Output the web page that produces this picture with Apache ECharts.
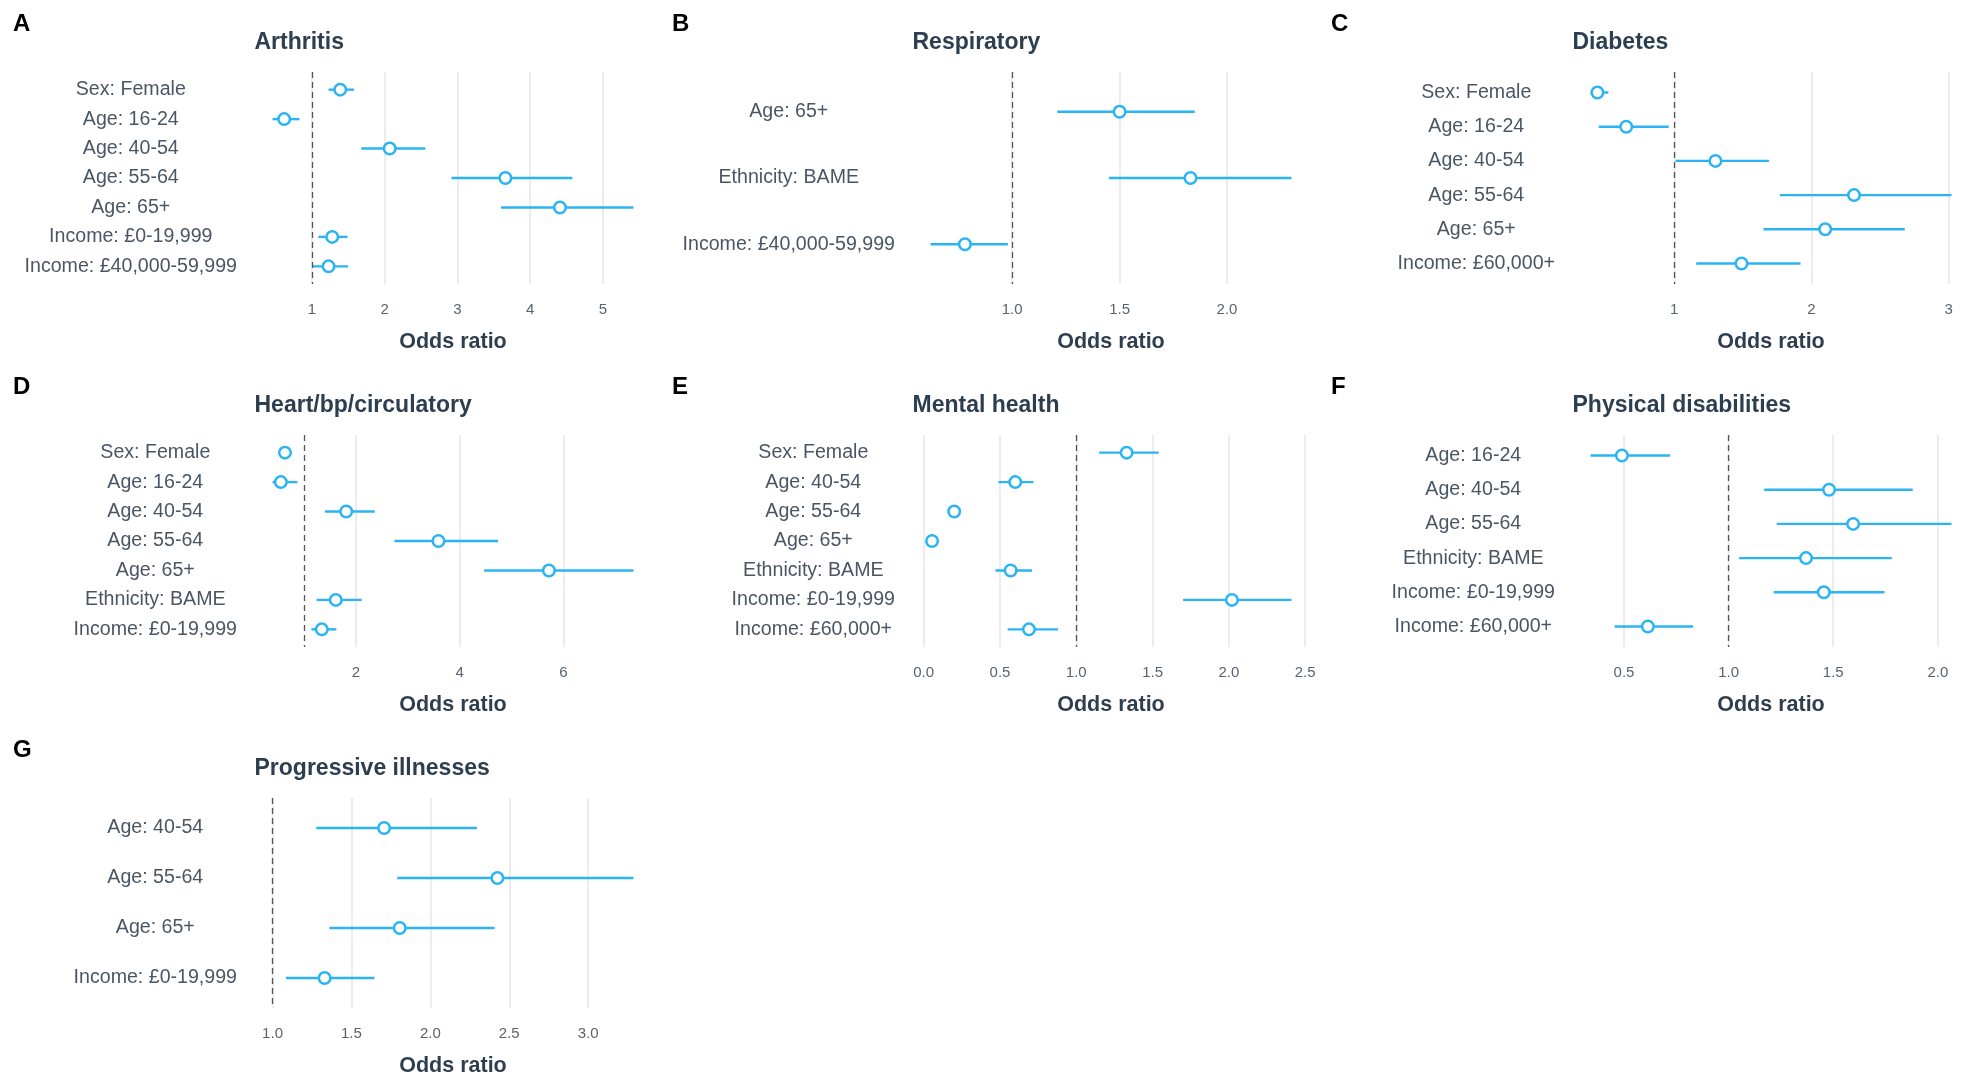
<!DOCTYPE html>
<html>
<head>
<meta charset="utf-8">
<script src="https://cdn.jsdelivr.net/npm/echarts@6/dist/echarts.min.js"></script>
<style>
html,body{margin:0;padding:0;background:#fff;}
#chart{width:1970px;height:1078px;}
</style>
</head>
<body>
<div id="chart"></div>
<script>
// ---------------- DATA ----------------
const arthritisLabels = ['Sex: Female','Age: 16-24','Age: 40-54','Age: 55-64','Age: 65+','Income: £0-19,999','Income: £40,000-59,999'];
const arthritisOR = [1.39, 0.62, 2.07, 3.66, 4.41, 1.28, 1.23];
const arthritisLo = [1.23, 0.46, 1.68, 2.92, 3.60, 1.09, 1.01];
const arthritisHi = [1.58, 0.83, 2.56, 4.58, 5.42, 1.49, 1.50];
const arthritisTicks = [1, 2, 3, 4, 5];
const arthritisTickLabels = ['1', '2', '3', '4', '5'];

const respiratoryLabels = ['Age: 65+','Ethnicity: BAME','Income: £40,000-59,999'];
const respiratoryOR = [1.50, 1.83, 0.78];
const respiratoryLo = [1.21, 1.45, 0.62];
const respiratoryHi = [1.85, 2.30, 0.98];
const respiratoryTicks = [1.0, 1.5, 2.0];
const respiratoryTickLabels = ['1.0', '1.5', '2.0'];

const diabetesLabels = ['Sex: Female','Age: 16-24','Age: 40-54','Age: 55-64','Age: 65+','Income: £60,000+'];
const diabetesOR = [0.44, 0.65, 1.30, 2.31, 2.10, 1.49];
const diabetesLo = [0.39, 0.45, 1.01, 1.77, 1.65, 1.16];
const diabetesHi = [0.52, 0.96, 1.69, 3.02, 2.68, 1.92];
const diabetesTicks = [1, 2, 3];
const diabetesTickLabels = ['1', '2', '3'];

const heartLabels = ['Sex: Female','Age: 16-24','Age: 40-54','Age: 55-64','Age: 65+','Ethnicity: BAME','Income: £0-19,999'];
const heartOR = [0.63, 0.55, 1.81, 3.59, 5.72, 1.61, 1.34];
const heartLo = [0.60, 0.39, 1.40, 2.74, 4.47, 1.24, 1.14];
const heartHi = [0.67, 0.87, 2.36, 4.74, 7.35, 2.11, 1.62];
const heartTicks = [2, 4, 6];
const heartTickLabels = ['2', '4', '6'];

const mentalLabels = ['Sex: Female','Age: 40-54','Age: 55-64','Age: 65+','Ethnicity: BAME','Income: £0-19,999','Income: £60,000+'];
const mentalOR = [1.33, 0.60, 0.20, 0.055, 0.57, 2.02, 0.69];
const mentalLo = [1.15, 0.49, 0.185, 0.045, 0.47, 1.70, 0.55];
const mentalHi = [1.54, 0.72, 0.215, 0.065, 0.71, 2.41, 0.88];
const mentalTicks = [0.0, 0.5, 1.0, 1.5, 2.0, 2.5];
const mentalTickLabels = ['0.0', '0.5', '1.0', '1.5', '2.0', '2.5'];

const physicalLabels = ['Age: 16-24','Age: 40-54','Age: 55-64','Ethnicity: BAME','Income: £0-19,999','Income: £60,000+'];
const physicalOR = [0.49, 1.48, 1.595, 1.37, 1.455, 0.614];
const physicalLo = [0.34, 1.17, 1.23, 1.05, 1.215, 0.455];
const physicalHi = [0.72, 1.88, 2.065, 1.78, 1.745, 0.83];
const physicalTicks = [0.5, 1.0, 1.5, 2.0];
const physicalTickLabels = ['0.5', '1.0', '1.5', '2.0'];

const progressiveLabels = ['Age: 40-54','Age: 55-64','Age: 65+','Income: £0-19,999'];
const progressiveOR = [1.707, 2.425, 1.806, 1.33];
const progressiveLo = [1.277, 1.79, 1.36, 1.085];
const progressiveHi = [2.295, 3.287, 2.407, 1.646];
const progressiveTicks = [1.0, 1.5, 2.0, 2.5, 3.0];
const progressiveTickLabels = ['1.0', '1.5', '2.0', '2.5', '3.0'];

const panelTitles = ['Arthritis', 'Respiratory', 'Diabetes', 'Heart/bp/circulatory', 'Mental health', 'Physical disabilities', 'Progressive illnesses'];
const panelLetters = ['A', 'B', 'C', 'D', 'E', 'F', 'G'];
const axisTitle = 'Odds ratio';
const refValue = 1;

// ---------------- BUILD ----------------
const panels = [
  {labels: arthritisLabels, or: arthritisOR, lo: arthritisLo, hi: arthritisHi, ticks: arthritisTicks, tickLabels: arthritisTickLabels},
  {labels: respiratoryLabels, or: respiratoryOR, lo: respiratoryLo, hi: respiratoryHi, ticks: respiratoryTicks, tickLabels: respiratoryTickLabels},
  {labels: diabetesLabels, or: diabetesOR, lo: diabetesLo, hi: diabetesHi, ticks: diabetesTicks, tickLabels: diabetesTickLabels},
  {labels: heartLabels, or: heartOR, lo: heartLo, hi: heartHi, ticks: heartTicks, tickLabels: heartTickLabels},
  {labels: mentalLabels, or: mentalOR, lo: mentalLo, hi: mentalHi, ticks: mentalTicks, tickLabels: mentalTickLabels},
  {labels: physicalLabels, or: physicalOR, lo: physicalLo, hi: physicalHi, ticks: physicalTicks, tickLabels: physicalTickLabels},
  {labels: progressiveLabels, or: progressiveOR, lo: progressiveLo, hi: progressiveHi, ticks: progressiveTicks, tickLabels: progressiveTickLabels}
];

const BLUE = '#2bb4f3';
const FONT = '"Liberation Sans", Arial, Helvetica, sans-serif';
const colLeft = [254.5, 912.5, 1572.5];
const letterLeft = [13, 672, 1331];
const rowTop = [72, 435, 798];
const plotW = 397, plotH = 212;
const LABEL_SIZE = 19.6;

const ctx = document.createElement('canvas').getContext('2d');
function textW(t, font) { ctx.font = font; return ctx.measureText(t).width; }

const grid = [], xAxis = [], yAxis = [], series = [], title = [];

panels.forEach((p, i) => {
  const col = i % 3, row = Math.floor(i / 3);
  const left = colLeft[col], top = rowTop[row];
  const dMin = Math.min(refValue, ...p.lo), dMax = Math.max(refValue, ...p.hi);
  const pad = (dMax - dMin) * 0.05;
  const n = p.labels.length;
  const idx = p.labels.map((_, k) => k);
  const maxW = Math.max(...p.labels.map(t => textW(t, LABEL_SIZE + 'px ' + FONT)));

  grid.push({left: left, top: top, width: plotW, height: plotH});

  xAxis.push({
    type: 'value', gridIndex: i, min: dMin - pad, max: dMax + pad,
    axisLine: {show: false},
    axisTick: {show: false, customValues: p.ticks},
    axisLabel: {
      customValues: p.ticks,
      formatter: v => { const k = p.ticks.findIndex(t => Math.abs(t - v) < 1e-9); return k >= 0 ? p.tickLabels[k] : ''; },
      color: '#59636e', fontSize: 15, fontFamily: FONT, margin: 18.5
    },
    splitLine: {show: true, lineStyle: {color: '#e6e6e6', width: 1.5}},
    name: axisTitle, nameLocation: 'middle', nameGap: 47,
    nameTextStyle: {color: '#2f3e4e', fontSize: 21.5, fontWeight: 'bold', fontFamily: FONT}
  });

  yAxis.push({
    type: 'value', gridIndex: i, inverse: true, min: -0.6, max: n - 1 + 0.6,
    axisLine: {show: false},
    axisTick: {show: false, customValues: idx},
    splitLine: {show: false},
    axisLabel: {
      customValues: idx,
      formatter: v => p.labels[Math.round(v)],
      align: 'center', margin: 17.5 + maxW / 2,
      padding: [4, 0, 0, 0],
      color: '#4b5664', fontSize: LABEL_SIZE, fontFamily: FONT
    }
  });

  series.push({
    type: 'custom', xAxisIndex: i, yAxisIndex: i, z: 3, silent: true,
    data: p.lo.map((l, k) => [l, p.hi[k], k]),
    encode: {x: [0, 1], y: 2},
    renderItem: (params, api) => {
      const a = api.coord([api.value(0), api.value(2)]);
      const b = api.coord([api.value(1), api.value(2)]);
      return {type: 'line', shape: {x1: a[0], y1: a[1], x2: b[0], y2: b[1]},
              style: {stroke: BLUE, lineWidth: 2.4}};
    },
    markLine: {
      silent: true, symbol: 'none', label: {show: false},
      lineStyle: {type: [6, 4], color: '#555555', width: 1.3},
      data: [{xAxis: refValue}]
    }
  });

  series.push({
    type: 'scatter', xAxisIndex: i, yAxisIndex: i, z: 5, silent: true,
    data: p.or.map((v, k) => [v, k]),
    symbol: 'circle', symbolSize: 11.5,
    itemStyle: {color: '#ffffff', borderColor: BLUE, borderWidth: 2.5, opacity: 1}
  });

  title.push({
    text: panelTitles[i], left: left, top: top - 41, padding: 0,
    textStyle: {fontSize: 23, fontWeight: 'bold', color: '#2c3e50', fontFamily: FONT}
  });
  title.push({
    text: panelLetters[i], left: letterLeft[col], top: top - 60, padding: 0,
    textStyle: {fontSize: 24, fontWeight: 'bold', color: '#000000', fontFamily: FONT}
  });
});

const chart = echarts.init(document.getElementById('chart'), null, {renderer: 'canvas'});
chart.setOption({
  backgroundColor: '#ffffff',
  animation: false,
  title: title,
  grid: grid,
  xAxis: xAxis,
  yAxis: yAxis,
  series: series
});
</script>
</body>
</html>
